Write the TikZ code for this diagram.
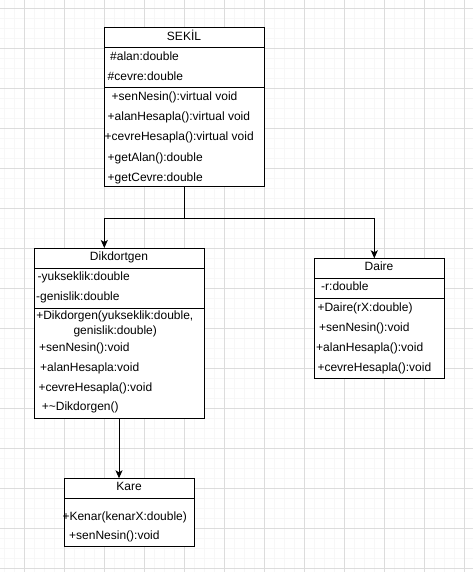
\documentclass[tikz,border=0pt]{standalone}
\usepackage{fontspec}
\setmainfont{Liberation Sans}
\usetikzlibrary{arrows.meta}

\tikzset{
  classbox/.style={draw=black, fill=white, line width=1pt, inner sep=0pt, outer sep=0pt},
  divider/.style={draw=black, line width=1pt},
  member/.style={anchor=base west, inner sep=0pt, font=\fontsize{12pt}{14pt}\selectfont},
  title/.style={anchor=base, inner sep=0pt, font=\fontsize{12pt}{14pt}\selectfont},
  inherit/.style={draw=black, line width=1pt, -{Stealth[length=8pt,width=7pt,inset=2pt]}},
  minorgrid/.style={draw={rgb,255:red,247;green,247;blue,247}, line width=0.8pt},
  majorgrid/.style={draw={rgb,255:red,220;green,220;blue,220}, line width=0.8pt}
}

\begin{document}
\begin{tikzpicture}[x=1pt, y=-1pt]
  \useasboundingbox (0,0) rectangle (473,572);
  \fill[white] (0,0) rectangle (473,572);

  % background grid
  \foreach \gx in {4,14,...,474} \draw[minorgrid] (\gx,0) -- (\gx,572);
  \foreach \gy in {8,18,...,572} \draw[minorgrid] (0,\gy) -- (473,\gy);
  \foreach \gx in {24,64,...,464} \draw[majorgrid] (\gx,0) -- (\gx,572);
  \foreach \gy in {8,48,...,568} \draw[majorgrid] (0,\gy) -- (473,\gy);

  % SEKİL
  \node[classbox, minimum width=160pt, minimum height=158pt] (sekil) at (184,107) {};
  \draw[divider] (104,48) -- (264,48);
  \draw[divider] (104,88) -- (264,88);
  \node[title]  (sekilT) at (184,41) {SEKİL};
  \node[member] (sk1) at (110,61)   {\#alan:double};
  \node[member] (sk2) at (107.5,81) {\#cevre:double};
  \node[member] (sk3) at (111.5,101) {+senNesin():virtual void};
  \node[member] (sk4) at (107.5,121) {+alanHesapla():virtual void};
  \node[member] (sk5) at (104.5,141) {+cevreHesapla():virtual void};
  \node[member] (sk6) at (107.5,161) {+getAlan():double};
  \node[member] (sk7) at (107.5,181) {+getCevre:double};

  % Dikdortgen
  \node[classbox, minimum width=170pt, minimum height=170pt] (dik) at (119,333) {};
  \draw[divider] (34,268.5) -- (204,268.5);
  \draw[divider] (34,308) -- (204,308);
  \node[title]  (dikT) at (119,260.7) {Dikdortgen};
  \node[member] (dk1) at (37.5,280.7) {-yukseklik:double};
  \node[member] (dk2) at (36,300.7)   {-genislik:double};
  \node[title]  (dk3) at (114.8,319.3) {+Dikdorgen(yukseklik:double,};
  \node[title]  (dk4) at (115.2,334)   {genislik:double)};
  \node[member] (dk5) at (39,351)     {+senNesin():void};
  \node[member] (dk6) at (40,371)     {+alanHesapla:void};
  \node[member] (dk7) at (38.3,391)   {+cevreHesapla():void};
  \node[member] (dk8) at (41.7,410.7) {+\char`\~Dikdorgen()};

  % Daire
  \node[classbox, minimum width=130pt, minimum height=120pt] (daire) at (379,318.3) {};
  \draw[divider] (314,278.3) -- (444,278.3);
  \draw[divider] (314,298) -- (444,298);
  \node[title]  (daT) at (379,270.7) {Daire};
  \node[member] (da1) at (321,290.7)   {-r:double};
  \node[member] (da2) at (317.3,311)   {+Daire(rX:double)};
  \node[member] (da3) at (319,331)     {+senNesin():void};
  \node[member] (da4) at (316,351)     {+alanHesapla():void};
  \node[member] (da5) at (317.3,371)   {+cevreHesapla():void};

  % Kare
  \node[classbox, minimum width=130pt, minimum height=68.4pt] (kare) at (129,512.5) {};
  \draw[divider] (64,498.3) -- (194,498.3);
  \node[title]  (kaT) at (129,490.7) {Kare};
  \node[member] (ka1) at (62.3,520.7) {+Kenar(kenarX:double)};
  \node[member] (ka2) at (69,539)     {+senNesin():void};

  % inheritance connectors
  \coordinate (jl) at (104.3,218.3);
  \coordinate (jr) at (374.3,218.3);
  \draw[inherit] (sekil.south) |- (jl) -- (dik.north -| jl);
  \draw[inherit] (sekil.south) |- (jr) -- (daire.north -| jr);
  \draw[inherit] (dik.south) -- (dik.south |- kare.north);
\end{tikzpicture}
\end{document}
